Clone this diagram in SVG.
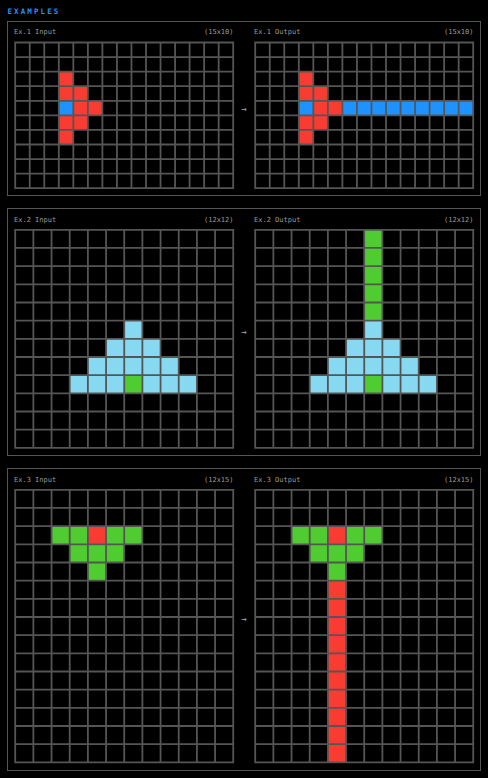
<svg xmlns="http://www.w3.org/2000/svg" width="488" height="778" viewBox="0 0 488 778">
<style>
.box{fill:none;stroke:#555;stroke-width:1}
.lbl{font-family:"DejaVu Sans Mono","Liberation Mono",monospace;font-size:7px;fill:#9a9a9a}
.dim{text-anchor:end}
.title{font-family:"DejaVu Sans Mono","Liberation Mono",monospace;font-size:7.5px;font-weight:bold;fill:#1E93FF;letter-spacing:2.1px}
.gl{fill:none;stroke:#555;stroke-linecap:square}
.k{fill:#000}
.R{fill:#F93C31}.B{fill:#1E93FF}.G{fill:#4FCC30}.C{fill:#87D8F1}
.arr{font-family:"DejaVu Sans Mono","Liberation Mono",monospace;font-size:9px;fill:#aaa;text-anchor:middle}
</style>
<defs>
<path id="g15x10" d="M0 0V10M1 0V10M2 0V10M3 0V10M4 0V10M5 0V10M6 0V10M7 0V10M8 0V10M9 0V10M10 0V10M11 0V10M12 0V10M13 0V10M14 0V10M15 0V10M0 0H15M0 1H15M0 2H15M0 3H15M0 4H15M0 5H15M0 6H15M0 7H15M0 8H15M0 9H15M0 10H15"/>
<path id="g12x12" d="M0 0V12M1 0V12M2 0V12M3 0V12M4 0V12M5 0V12M6 0V12M7 0V12M8 0V12M9 0V12M10 0V12M11 0V12M12 0V12M0 0H12M0 1H12M0 2H12M0 3H12M0 4H12M0 5H12M0 6H12M0 7H12M0 8H12M0 9H12M0 10H12M0 11H12M0 12H12"/>
<path id="g12x15" d="M0 0V15M1 0V15M2 0V15M3 0V15M4 0V15M5 0V15M6 0V15M7 0V15M8 0V15M9 0V15M10 0V15M11 0V15M12 0V15M0 0H12M0 1H12M0 2H12M0 3H12M0 4H12M0 5H12M0 6H12M0 7H12M0 8H12M0 9H12M0 10H12M0 11H12M0 12H12M0 13H12M0 14H12M0 15H12"/>
</defs>
<rect x="0" y="0" width="488" height="778" fill="#000"/>
<text class="title" x="7.5" y="14.3">EXAMPLES</text>

<g id="ex1">
<rect class="box" x="7.5" y="21.5" width="473" height="174"/>
<g id="ex1-input">
<text class="lbl" x="14" y="34">Ex.1 Input</text>
<text class="lbl dim" x="233.5" y="34">(15x10)</text>
<g transform="translate(15.2,42.5) scale(14.533,14.57)">
<rect class="k" width="15" height="10"/>
<rect class="R" x="3" y="2" width="1" height="2"/><rect class="R" x="4" y="3" width="1" height="3"/><rect class="R" x="5" y="4" width="1" height="1"/><rect class="R" x="3" y="5" width="1" height="2"/>
<rect class="B" x="3" y="4" width="1" height="1"/>
<use href="#g15x10" class="gl" stroke-width="0.124"/>
</g>
</g>
<g id="ex1-output">
<text class="lbl" x="254" y="34">Ex.1 Output</text>
<text class="lbl dim" x="473.5" y="34">(15x10)</text>
<g transform="translate(255.2,42.5) scale(14.533,14.57)">
<rect class="k" width="15" height="10"/>
<rect class="R" x="3" y="2" width="1" height="2"/><rect class="R" x="4" y="3" width="1" height="3"/><rect class="R" x="5" y="4" width="1" height="1"/><rect class="R" x="3" y="5" width="1" height="2"/>
<rect class="B" x="3" y="4" width="1" height="1"/><rect class="B" x="6" y="4" width="9" height="1"/>
<use href="#g15x10" class="gl" stroke-width="0.124"/>
</g>
</g>
</g>

<g id="ex2">
<rect class="box" x="7.5" y="208.5" width="473" height="247"/>
<g id="ex2-input">
<text class="lbl" x="14" y="221.5">Ex.2 Input</text>
<text class="lbl dim" x="233.5" y="221.5">(12x12)</text>
<g transform="translate(15.2,229.8) scale(18.17)">
<rect class="k" width="12" height="12"/>
<rect class="C" x="6" y="5" width="1" height="1"/><rect class="C" x="5" y="6" width="3" height="1"/><rect class="C" x="4" y="7" width="5" height="1"/><rect class="C" x="3" y="8" width="3" height="1"/><rect class="C" x="7" y="8" width="3" height="1"/>
<rect class="G" x="6" y="8" width="1" height="1"/>
<use href="#g12x12" class="gl" stroke-width="0.099"/>
</g>
</g>
<g id="ex2-output">
<text class="lbl" x="254" y="221.5">Ex.2 Output</text>
<text class="lbl dim" x="473.5" y="221.5">(12x12)</text>
<g transform="translate(255.2,229.8) scale(18.17)">
<rect class="k" width="12" height="12"/>
<rect class="C" x="6" y="5" width="1" height="1"/><rect class="C" x="5" y="6" width="3" height="1"/><rect class="C" x="4" y="7" width="5" height="1"/><rect class="C" x="3" y="8" width="3" height="1"/><rect class="C" x="7" y="8" width="3" height="1"/>
<rect class="G" x="6" y="8" width="1" height="1"/><rect class="G" x="6" y="0" width="1" height="5"/>
<use href="#g12x12" class="gl" stroke-width="0.099"/>
</g>
</g>
</g>

<g id="ex3">
<rect class="box" x="7.5" y="468.5" width="473" height="302"/>
<g id="ex3-input">
<text class="lbl" x="14" y="481.5">Ex.3 Input</text>
<text class="lbl dim" x="233.5" y="481.5">(12x15)</text>
<g transform="translate(15.2,489.8) scale(18.17)">
<rect class="k" width="12" height="15"/>
<rect class="G" x="2" y="2" width="2" height="1"/><rect class="R" x="4" y="2" width="1" height="1"/><rect class="G" x="5" y="2" width="2" height="1"/><rect class="G" x="3" y="3" width="3" height="1"/><rect class="G" x="4" y="4" width="1" height="1"/>
<use href="#g12x15" class="gl" stroke-width="0.099"/>
</g>
</g>
<g id="ex3-output">
<text class="lbl" x="254" y="481.5">Ex.3 Output</text>
<text class="lbl dim" x="473.5" y="481.5">(12x15)</text>
<g transform="translate(255.2,489.8) scale(18.17)">
<rect class="k" width="12" height="15"/>
<rect class="G" x="2" y="2" width="2" height="1"/><rect class="R" x="4" y="2" width="1" height="1"/><rect class="G" x="5" y="2" width="2" height="1"/><rect class="G" x="3" y="3" width="3" height="1"/><rect class="G" x="4" y="4" width="1" height="1"/>
<rect class="R" x="4" y="5" width="1" height="10"/>
<use href="#g12x15" class="gl" stroke-width="0.099"/>
</g>
</g>
</g>

<g id="connectors">
<text class="arr" x="244" y="112">→</text>
<text class="arr" x="244" y="335">→</text>
<text class="arr" x="244" y="622">→</text>
</g>
</svg>
